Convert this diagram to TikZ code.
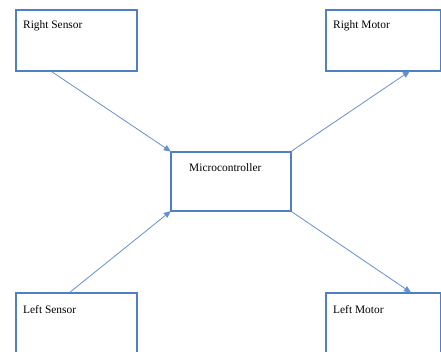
\documentclass[tikz,border=0pt]{standalone}
\usepackage{fontspec}
\setmainfont{Liberation Serif}
\usetikzlibrary{arrows.meta,calc}
\definecolor{boxblue}{HTML}{4F7FC4}
\definecolor{linkblue}{HTML}{6490D0}
\tikzset{
  block/.style={draw=boxblue, line width=1.7pt, rectangle, inner sep=0pt, anchor=north west},
  caption/.style={anchor=base west, inner sep=0pt, font=\fontsize{11.4}{13}\selectfont},
  link/.style={draw=linkblue, line width=0.8pt, -{Triangle[width=6pt,length=7pt]}, shorten >=-1pt}
}
\begin{document}
\begin{tikzpicture}[x=1pt,y=-1pt]
\useasboundingbox (0,0) rectangle (441,352);
\clip (0,0) rectangle (441,352);
% blocks
\node[block, minimum width=121pt, minimum height=61pt] (rs) at (15,9) {};
\node[block, minimum width=115pt, minimum height=61pt] (rm) at (325,9) {};
\node[block, minimum width=120pt, minimum height=59pt] (mc) at (170,151) {};
\node[block, minimum width=121pt, minimum height=64pt] (ls) at (15,292) {};
\node[block, minimum width=115pt, minimum height=64pt] (lm) at (325,292) {};
% captions
\node[caption] (rsT) at ($(rs.north west)+(8,20)$) {Right Sensor};
\node[caption] (rmT) at ($(rm.north west)+(8,20)$) {Right Motor};
\node[caption] (mcT) at ($(mc.north west)+(19,21)$) {Microcontroller};
\node[caption] (lsT) at ($(ls.north west)+(8,21)$) {Left Sensor};
\node[caption] (lmT) at ($(lm.north west)+(8,21)$) {Left Motor};
% connectors
\draw[link] ($(rs.south west)!0.3!(rs.south east)$) -- (mc.north west);
\draw[link] ($(ls.north west)!0.45!(ls.north east)$) -- (mc.south west);
\draw[link] (mc.north east) -- ($(rm.south west)!0.72!(rm.south east)$);
\draw[link] (mc.south east) -- ($(lm.north west)!0.73!(lm.north east)$);
\end{tikzpicture}
\end{document}
